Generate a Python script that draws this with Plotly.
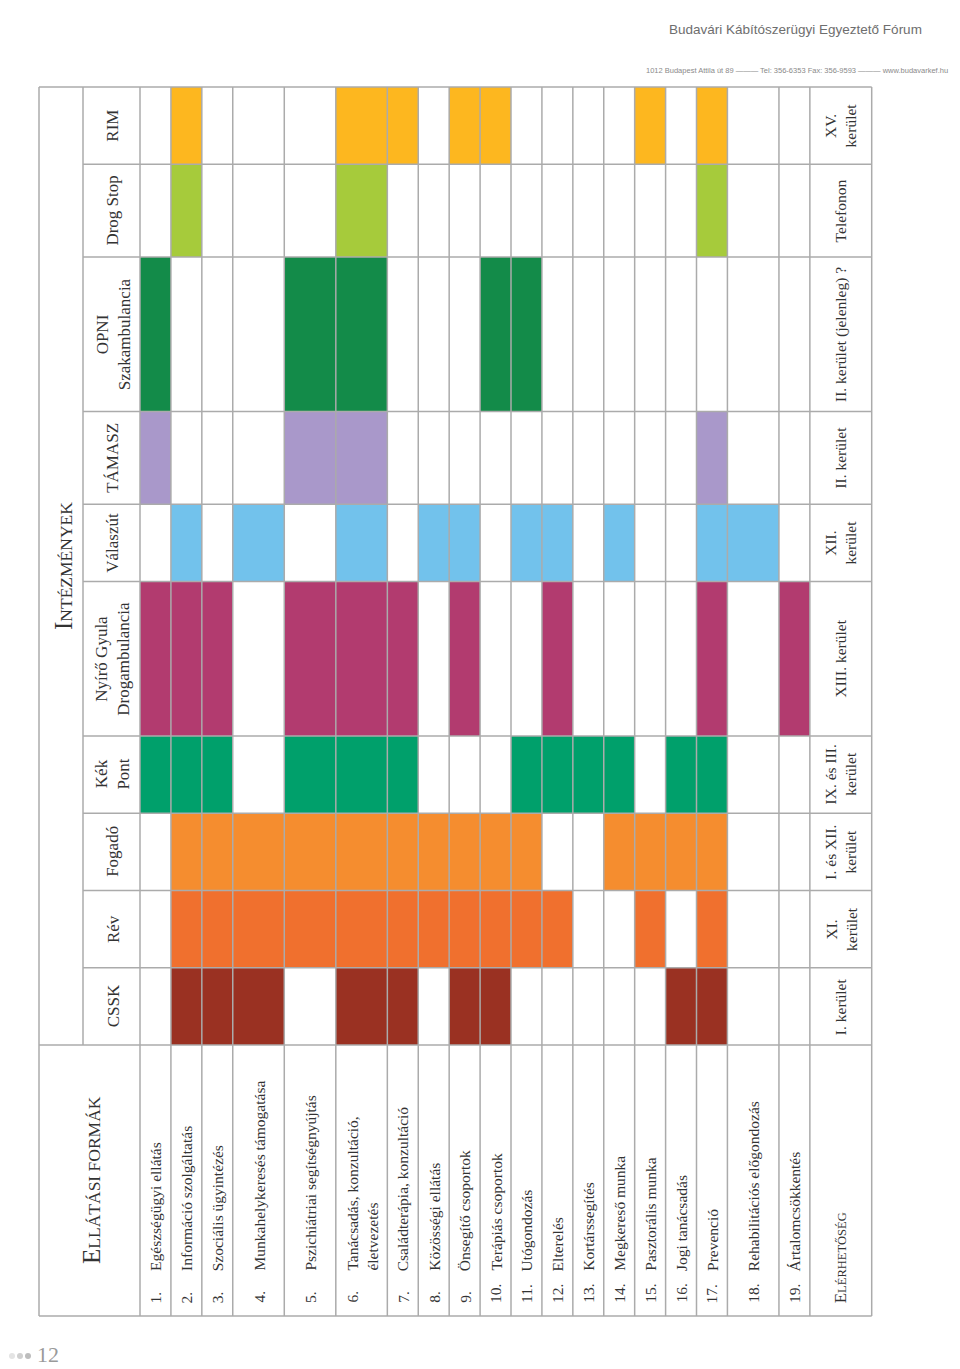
import plotly.graph_objects as go

# ---------------- data ----------------
institutions = ["CSSK", "Rév", "Fogadó", "Kék Pont", "Nyírő Gyula Drogambulancia",
                "Válaszút", "TÁMASZ", "OPNI Szakambulancia", "Drog Stop", "RIM"]
inst_labels = ["CSSK", "Rév", "Fogadó", "Kék<br>Pont", "Nyírő Gyula<br>Drogambulancia",
               "Válaszút", "TÁMASZ", "OPNI<br>Szakambulancia", "Drog Stop", "RIM"]
inst_colors = ["#9A3122", "#F0702E", "#F58D2F", "#00A06B", "#B23B6F",
               "#72C2EC", "#A998CA", "#138B49", "#A6CB3B", "#FDB71F"]
access = ["I. kerület", "XI.<br>kerület", "I. és XII.<br>kerület", "IX. és III.<br>kerület",
          "XIII. kerület", "XII.<br>kerület", "II. kerület", "II. kerület (jelenleg) ?",
          "Telefonon", "XV.<br>kerület"]
services = ["Egészségügyi ellátás", "Információ szolgáltatás", "Szociális ügyintézés",
            "Munkahelykeresés támogatása", "Pszichiátriai segítségnyújtás",
            "Tanácsadás, konzultáció,<br>életvezetés", "Családterápia, konzultáció",
            "Közösségi ellátás", "Önsegítő csoportok", "Terápiás csoportok", "Utógondozás",
            "Elterelés", "Kortárssegítés", "Megkereső munka", "Pasztorális munka",
            "Jogi tanácsadás", "Prevenció", "Rehabilitációs előgondozás", "Ártalomcsökkentés"]
offered_CSSK = [2, 3, 4, 6, 7, 9, 10, 16, 17]
offered_Rev = [2, 3, 4, 5, 6, 7, 8, 9, 10, 11, 12, 15, 17]
offered_Fogado = [2, 3, 4, 5, 6, 7, 8, 9, 10, 11, 14, 15, 16, 17]
offered_KekPont = [1, 2, 3, 5, 6, 7, 11, 12, 13, 14, 16, 17]
offered_Nyiro = [1, 2, 3, 5, 6, 7, 9, 12, 17, 19]
offered_Valaszut = [2, 4, 6, 8, 9, 11, 12, 14, 17, 18]
offered_Tamasz = [1, 5, 6, 17]
offered_OPNI = [1, 5, 6, 10, 11]
offered_DrogStop = [2, 6, 17]
offered_RIM = [2, 6, 7, 9, 10, 15, 17]
offered = [offered_CSSK, offered_Rev, offered_Fogado, offered_KekPont, offered_Nyiro,
           offered_Valaszut, offered_Tamasz, offered_OPNI, offered_DrogStop, offered_RIM]

# ---------------- layout geometry (page is rotated 90°) ----------------
W, H = 960, 1369
PAGE_OFF = 8   # default body margin of the html page
OUT_X0, SPLIT_X, TAB_X0, TAB_X1 = 39, 83, 140, 871.7
TAB_Y0, BAND_Y1, TAB_Y1 = 87, 1045, 1316
row_weights = [1, 1, 1, 5/3, 5/3, 5/3] + [1] * 11 + [5/3, 1] + [2]   # last = Elérhetőség
band_weights = [1, 1, 1, 1, 2, 1, 1.2, 2, 1.2, 1]                       # CSSK ... RIM

unit_x = (TAB_X1 - TAB_X0) / sum(row_weights)
row_edges = [TAB_X0]
for w in row_weights:
    row_edges.append(row_edges[-1] + w * unit_x)
unit_y = (BAND_Y1 - TAB_Y0) / sum(band_weights)
band_edges = [BAND_Y1]          # from bottom (CSSK) up to top (RIM)
for w in band_weights:
    band_edges.append(band_edges[-1] - w * unit_y)

GRID = "#ABABAB"
TXT = "#333333"
SERIF = "Liberation Serif, Times New Roman, serif"

fig = go.Figure()

# coloured cells
for i, name in enumerate(institutions):
    rows = offered[i]
    y_top = band_edges[i + 1]
    h = band_edges[i] - band_edges[i + 1]
    fig.add_trace(go.Bar(
        x=[(row_edges[r - 1] + row_edges[r]) / 2 for r in rows],
        width=[row_edges[r] - row_edges[r - 1] for r in rows],
        y=[h] * len(rows), base=[y_top] * len(rows),
        marker=dict(color=inst_colors[i], line=dict(width=0)),
        opacity=1, name=name, showlegend=False, hoverinfo="skip"))

shapes = []
def line(x0, y0, x1, y1):
    shapes.append(dict(type="line", xref="x", yref="y", x0=x0, y0=y0, x1=x1, y1=y1,
                       line=dict(color=GRID, width=1.5), layer="above"))

# outer frame
line(OUT_X0, TAB_Y0, TAB_X1, TAB_Y0)
line(OUT_X0, TAB_Y1, TAB_X1, TAB_Y1)
line(OUT_X0, TAB_Y0, OUT_X0, TAB_Y1)
line(TAB_X1, TAB_Y0, TAB_X1, TAB_Y1)
line(SPLIT_X, TAB_Y0, SPLIT_X, BAND_Y1)
for xe in row_edges[:-1]:
    line(xe, TAB_Y0, xe, TAB_Y1)
for ye in band_edges[1:-1]:
    line(SPLIT_X, ye, TAB_X1, ye)
line(OUT_X0, BAND_Y1, TAB_X1, BAND_Y1)

ann = []
def text(x, y, t, size, xanchor="center", yanchor="middle", align="center", angle=-90,
         color=TXT, family=SERIF):
    ann.append(dict(x=x, y=y, xref="x", yref="y", text=t, showarrow=False, textangle=angle,
                    xanchor=xanchor, yanchor=yanchor, align=align,
                    font=dict(family=family, size=size, color=color)))

# institution names and access
for i, lab in enumerate(inst_labels):
    yc = (band_edges[i] + band_edges[i + 1]) / 2
    text(113, yc, lab, 17)
    text((row_edges[-2] + row_edges[-1]) / 2, yc, access[i], 15.5)

# service rows
for k, s in enumerate(services):
    xc = (row_edges[k] + row_edges[k + 1]) / 2
    two = "<br>" in s
    text(xc - (10 if two else 0), 1305, f"{k + 1}.", 15.5, yanchor="bottom")
    text(xc, 1273, s, 15.5, yanchor="bottom", align="left")

# headers (small caps imitation)
text(91, 1180, "<span style='font-size:25px'>E</span>LLÁTÁSI FORMÁK", 17.5)
text(63, 566, "<span style='font-size:25px'>I</span>NTÉZMÉNYEK", 17.5)
text((row_edges[-2] + row_edges[-1]) / 2, 1305,
     "<span style='font-size:17px'>E</span>LÉRHETŐSÉG", 12.5, yanchor="bottom")

# page number
text(48, 1354, "12", 22, angle=0, color="#9A9A9A")
fig.add_trace(go.Scatter(x=[12, 20, 28], y=[1356, 1356, 1356], mode="markers",
                         marker=dict(size=6, color=["#E4E4E4", "#D0D0D0", "#BDBDBD"]),
                         cliponaxis=False, showlegend=False, hoverinfo="skip"))

# letterhead
text(795, 29, "Budavári Kábítószerügyi Egyeztető Fórum", 13.5, angle=0, color="#6E6E6E",
     family="Liberation Sans, Arial, sans-serif")
text(797, 70, "1012 Budapest Attila út 89 ——— Tel: 356-6353 Fax: 356-9593 ——— www.budavarkef.hu",
     7.5, angle=0, color="#8A8A8A", family="Liberation Sans, Arial, sans-serif")

fig.update_layout(
    width=W, height=H, margin=dict(l=0, r=0, t=0, b=0),
    paper_bgcolor="white", plot_bgcolor="white",
    barmode="overlay", bargap=0, showlegend=False,
    xaxis=dict(range=[PAGE_OFF, W + PAGE_OFF], visible=False, fixedrange=True),
    yaxis=dict(range=[H + PAGE_OFF, PAGE_OFF], visible=False, fixedrange=True),
    shapes=shapes, annotations=ann,
)
fig.write_html("out.html")
